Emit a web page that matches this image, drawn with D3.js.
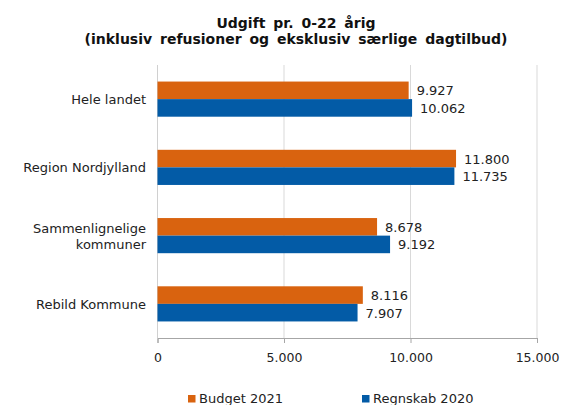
<!DOCTYPE html>
<html><head><meta charset="utf-8">
<script src="https://cdn.jsdelivr.net/npm/d3@7"></script>
<style>
html,body{margin:0;padding:0;background:#fff;}
svg{display:block;font-family:"DejaVu Sans",Verdana,sans-serif;}
</style></head>
<body>
<svg id="c" width="563" height="405"></svg>
<script>
const categories = ["Hele landet", "Region Nordjylland", "Sammenlignelige\nkommuner", "Rebild Kommune"];
const seriesNames = ["Budget 2021", "Regnskab 2020"];
const budget2021 = [9927, 11800, 8678, 8116];
const regnskab2020 = [10062, 11735, 9192, 7907];
const xTicks = [0, 5000, 10000, 15000];
const titleLines = ["Udgift pr. 0-22 årig", "(inklusiv refusioner og eksklusiv særlige dagtilbud)"];
const colors = ["#D9630F", "#035BA6"];

(function () {
const svg = d3.select("#c");
const pLeft = 157.5, pRight = 537, pTop = 65, pBottom = 338;
const fmt = v => d3.format(",")(v).replace(/,/g, ".");

const x = d3.scaleLinear().domain([0, 15000]).range([pLeft, pRight]);
const y = d3.scaleBand().domain(categories).range([pTop, pBottom]).paddingInner(0.485).paddingOuter(0.2425);
const sub = d3.scaleBand().domain(seriesNames).range([0, y.bandwidth()]);

// title
svg.append("g").selectAll("text").data(titleLines).join("text")
  .attr("x", 296).attr("y", (d, i) => 27.5 + i * 16)
  .attr("text-anchor", "middle").attr("font-weight", "bold").attr("font-size", 14)
  .attr("word-spacing", 3).attr("fill", "#111").text(d => d);

// gridlines
svg.append("g").selectAll("line").data(xTicks).join("line")
  .attr("x1", d => x(d)).attr("x2", d => x(d)).attr("y1", pTop).attr("y2", pBottom)
  .attr("stroke", "#d9d9d9").attr("stroke-width", 1);

// x axis
const xa = svg.append("g").attr("transform", `translate(0,${pBottom})`)
  .call(d3.axisBottom(x).tickValues(xTicks).tickFormat(fmt).tickSize(5).tickPadding(10));
xa.select(".domain").attr("stroke", "#a6a6a6");
xa.selectAll(".tick line").attr("stroke", "#a6a6a6");
xa.selectAll(".tick text").attr("font-size", 12.5).attr("fill", "#222").attr("font-family", "DejaVu Sans");

// left axis line
svg.append("line").attr("x1", pLeft).attr("x2", pLeft).attr("y1", pTop).attr("y2", pBottom)
  .attr("stroke", "#d0d0d0");

// bars
const data = categories.map((c, i) => ({ c, vals: [budget2021[i], regnskab2020[i]] }));
const grp = svg.append("g").selectAll("g").data(data).join("g")
  .attr("transform", d => `translate(0,${y(d.c)})`);
grp.selectAll("rect").data(d => d.vals.map((v, j) => ({ v, s: seriesNames[j], j }))).join("rect")
  .attr("x", x(0)).attr("y", d => sub(d.s)).attr("width", d => x(d.v) - x(0))
  .attr("height", sub.bandwidth()).attr("fill", d => colors[d.j]);
grp.selectAll("text").data(d => d.vals.map((v, j) => ({ v, s: seriesNames[j], j }))).join("text")
  .attr("x", d => x(d.v) + 8).attr("y", d => sub(d.s) + sub.bandwidth() / 2 + 5)
  .attr("font-size", 13).attr("fill", "#222").text(d => fmt(d.v));

// category labels
svg.append("g").selectAll("text").data(categories).join("text")
  .attr("text-anchor", "end").attr("font-size", 13).attr("fill", "#222")
  .each(function (d) {
    const lines = d.split("\n");
    const cy = y(d) + y.bandwidth() / 2;
    const t = d3.select(this);
    lines.forEach((l, i) => {
      t.append("tspan").attr("x", 146)
        .attr("y", cy + 5 + (i - (lines.length - 1) / 2) * 16).text(l);
    });
  });

// legend
const legX = [188, 362];
const lg = svg.append("g").selectAll("g").data(seriesNames).join("g")
  .attr("transform", (d, i) => `translate(${legX[i]},0)`);
lg.append("rect").attr("x", 0).attr("y", 395).attr("width", 7.5).attr("height", 7.5)
  .attr("fill", (d, i) => colors[i]);
lg.append("text").attr("x", 11).attr("y", 402.5).attr("font-size", 13).attr("fill", "#222").text(d => d);
})();
</script>
</body></html>
